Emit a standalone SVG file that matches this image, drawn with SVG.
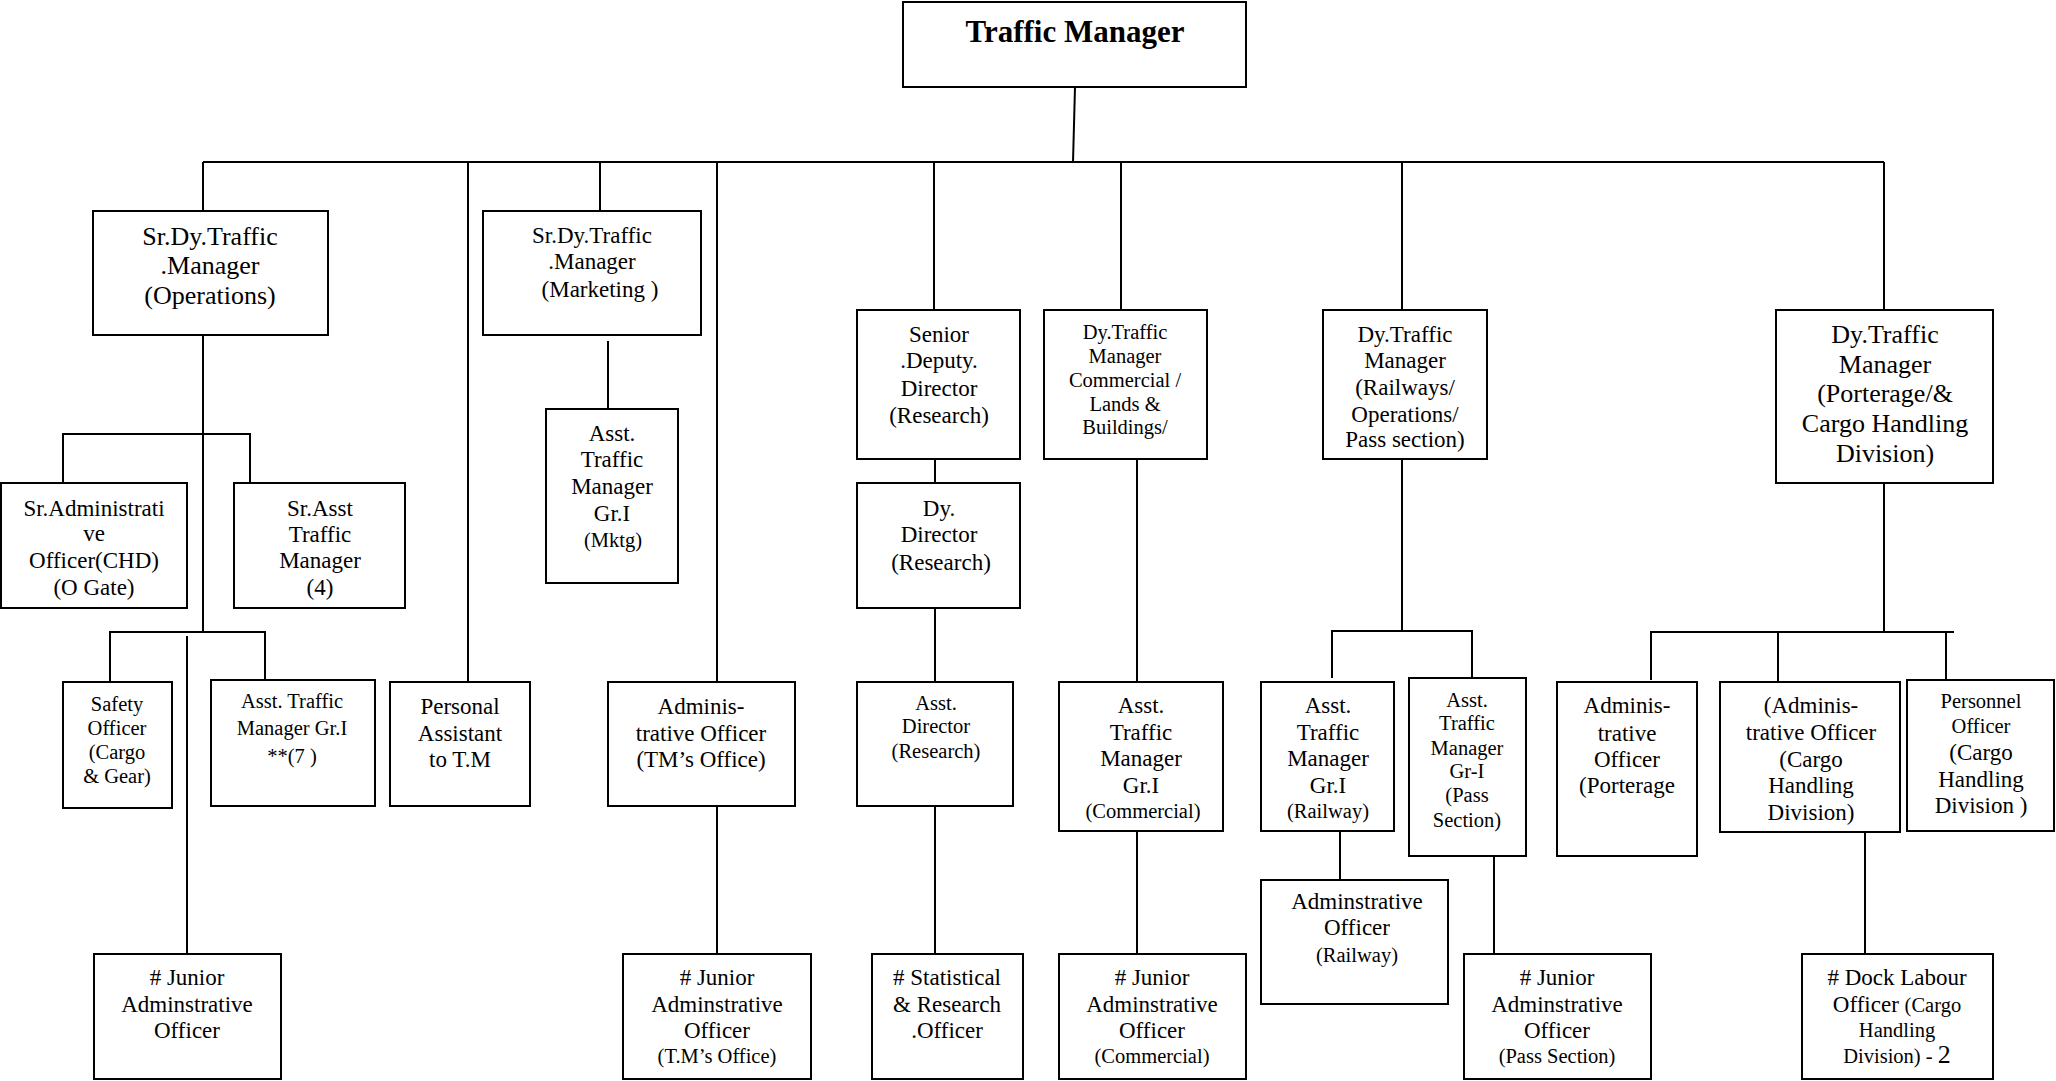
<svg xmlns="http://www.w3.org/2000/svg" width="2056" height="1081" viewBox="0 0 2056 1081">
<style>
.box{fill:#fff;stroke:#000;stroke-width:2}
.c{fill:none;stroke:#000;stroke-width:2}
text{font-family:"Liberation Serif","Times New Roman",serif;text-anchor:middle;fill:#000;font-size:23px}
.s{font-size:20.5px}
.l{font-size:26px}
.b{font-size:31px;font-weight:bold}
</style>
<rect width="2056" height="1081" fill="#fff"/>
<g id="connectors">
<path class="c" d="M1075,87 L1073,162"/>
<path class="c" d="M203,162 H1884"/>
<path class="c" d="M203,162 V211 M468,162 V682 M600,162 V211 M717,162 V682 M934,162 V310 M1121,162 V310 M1402,162 V310 M1884,162 V310"/>
<path class="c" d="M203,335 V632 M63,483 V434 H250 V483 M110,682 V632 H265 V680 M187,636 V954"/>
<path class="c" d="M608,341 V409"/>
<path class="c" d="M717,806 V954"/>
<path class="c" d="M935,459 V483 M935,608 V682 M935,806 V954"/>
<path class="c" d="M1137,459 V682 M1137,831 V954"/>
<path class="c" d="M1402,459 V631 M1332,678 V631 H1472 V678 M1340,831 V880 M1494,856 V954"/>
<path class="c" d="M1884,483 V632 M1651,680 V632 H1954 M1778,632 V682 M1946,632 V680 M1865,832 V954"/>
</g>
<g id="tm"><rect class="box" x="903" y="2" width="343" height="85"/><text class="b" x="1075" y="42">Traffic Manager</text></g>
<g id="ops"><rect class="box" x="93" y="211" width="235" height="124"/>
<text class="l" x="210" y="245">Sr.Dy.Traffic</text><text class="l" x="210" y="274">.Manager</text><text class="l" x="210" y="304">(Operations)</text></g>
<g id="mktg"><rect class="box" x="483" y="211" width="218" height="124"/>
<text x="592" y="243">Sr.Dy.Traffic</text><text x="592" y="269">.Manager</text><text x="600" y="297">(Marketing )</text></g>
<g id="sradmin"><rect class="box" x="1" y="483" width="186" height="125"/>
<text x="94" y="516">Sr.Administrati</text><text x="94" y="541">ve</text><text x="94" y="568">Officer(CHD)</text><text x="94" y="595">(O Gate)</text></g>
<g id="srasst"><rect class="box" x="234" y="483" width="171" height="125"/>
<text x="320" y="516">Sr.Asst</text><text x="320" y="542">Traffic</text><text x="320" y="568">Manager</text><text x="320" y="595">(4)</text></g>
<g id="atm-mktg"><rect class="box" x="546" y="409" width="132" height="174"/>
<text x="612" y="441">Asst.</text><text x="612" y="467">Traffic</text><text x="612" y="494">Manager</text><text x="612" y="521">Gr.I</text><text class="s" x="613" y="547">(Mktg)</text></g>
<g id="safety"><rect class="box" x="63" y="682" width="109" height="126"/>
<text class="s" x="117" y="711">Safety</text><text class="s" x="117" y="735">Officer</text><text class="s" x="117" y="759">(Cargo</text><text class="s" x="117" y="783">&amp; Gear)</text></g>
<g id="atm-ops"><rect class="box" x="211" y="680" width="164" height="126"/>
<text class="s" x="292" y="708">Asst. Traffic</text><text class="s" x="292" y="735">Manager Gr.I</text><text class="s" x="292" y="763">**(7 )</text></g>
<g id="pa"><rect class="box" x="390" y="682" width="140" height="124"/>
<text x="460" y="714">Personal</text><text x="460" y="741">Assistant</text><text x="460" y="767">to T.M</text></g>
<g id="admin-tm"><rect class="box" x="608" y="682" width="187" height="124"/>
<text x="701" y="714">Adminis-</text><text x="701" y="741">trative Officer</text><text x="701" y="767">(TM’s Office)</text></g>
<g id="srdepdir"><rect class="box" x="857" y="310" width="163" height="149"/>
<text x="939" y="342">Senior</text><text x="939" y="368">.Deputy.</text><text x="939" y="396">Director</text><text x="939" y="423">(Research)</text></g>
<g id="dydir"><rect class="box" x="857" y="483" width="163" height="125"/>
<text x="939" y="516">Dy.</text><text x="939" y="542">Director</text><text x="941" y="570">(Research)</text></g>
<g id="asstdir"><rect class="box" x="857" y="682" width="156" height="124"/>
<text class="s" x="936" y="710">Asst.</text><text class="s" x="936" y="733">Director</text><text class="s" x="936" y="758">(Research)</text></g>
<g id="dtm-comm"><rect class="box" x="1044" y="310" width="163" height="149"/>
<text class="s" x="1125" y="339">Dy.Traffic</text><text class="s" x="1125" y="363">Manager</text><text class="s" x="1125" y="387">Commercial /</text><text class="s" x="1125" y="411">Lands &amp;</text><text class="s" x="1125" y="434">Buildings/</text></g>
<g id="atm-comm"><rect class="box" x="1059" y="682" width="164" height="149"/>
<text x="1141" y="713">Asst.</text><text x="1141" y="740">Traffic</text><text x="1141" y="766">Manager</text><text x="1141" y="793">Gr.I</text><text class="s" x="1143" y="818">(Commercial)</text></g>
<g id="dtm-rail"><rect class="box" x="1323" y="310" width="164" height="149"/>
<text x="1405" y="342">Dy.Traffic</text><text x="1405" y="368">Manager</text><text x="1405" y="395">(Railways/</text><text x="1405" y="422">Operations/</text><text x="1405" y="447">Pass section)</text></g>
<g id="atm-rail"><rect class="box" x="1261" y="682" width="133" height="149"/>
<text x="1328" y="713">Asst.</text><text x="1328" y="740">Traffic</text><text x="1328" y="766">Manager</text><text x="1328" y="793">Gr.I</text><text class="s" x="1328" y="818">(Railway)</text></g>
<g id="ao-rail"><rect class="box" x="1261" y="880" width="187" height="124"/>
<text x="1357" y="909">Adminstrative</text><text x="1357" y="935">Officer</text><text class="s" x="1357" y="962">(Railway)</text></g>
<g id="atm-pass"><rect class="box" x="1409" y="678" width="117" height="178"/>
<text class="s" x="1467" y="707">Asst.</text><text class="s" x="1467" y="730">Traffic</text><text class="s" x="1467" y="755">Manager</text><text class="s" x="1467" y="778">Gr-I</text><text class="s" x="1467" y="802">(Pass</text><text class="s" x="1467" y="827">Section)</text></g>
<g id="dtm-port"><rect class="box" x="1776" y="310" width="217" height="173"/>
<text class="l" x="1885" y="343">Dy.Traffic</text><text class="l" x="1885" y="373">Manager</text><text class="l" x="1885" y="402">(Porterage/&amp;</text><text class="l" x="1885" y="432">Cargo Handling</text><text class="l" x="1885" y="462">Division)</text></g>
<g id="ao-port"><rect class="box" x="1557" y="682" width="140" height="174"/>
<text x="1627" y="713">Adminis-</text><text x="1627" y="741">trative</text><text x="1627" y="767">Officer</text><text x="1627" y="793">(Porterage</text></g>
<g id="ao-cargo"><rect class="box" x="1720" y="682" width="180" height="150"/>
<text x="1811" y="713">(Adminis-</text><text x="1811" y="740">trative Officer</text><text x="1811" y="767">(Cargo</text><text x="1811" y="793">Handling</text><text x="1811" y="820">Division)</text></g>
<g id="personnel"><rect class="box" x="1907" y="680" width="147" height="151"/>
<text class="s" x="1981" y="708">Personnel</text><text class="s" x="1981" y="733">Officer</text><text x="1981" y="760">(Cargo</text><text x="1981" y="787">Handling</text><text x="1981" y="813">Division )</text></g>
<g id="jao-ops"><rect class="box" x="94" y="954" width="187" height="125"/>
<text x="187" y="985"># Junior</text><text x="187" y="1012">Adminstrative</text><text x="187" y="1038">Officer</text></g>
<g id="jao-tm"><rect class="box" x="623" y="954" width="188" height="125"/>
<text x="717" y="985"># Junior</text><text x="717" y="1012">Adminstrative</text><text x="717" y="1038">Officer</text><text class="s" x="717" y="1063">(T.M’s Office)</text></g>
<g id="stat"><rect class="box" x="872" y="954" width="151" height="125"/>
<text x="947" y="985"># Statistical</text><text x="947" y="1012">&amp; Research</text><text x="947" y="1038">.Officer</text></g>
<g id="jao-comm"><rect class="box" x="1059" y="954" width="187" height="125"/>
<text x="1152" y="985"># Junior</text><text x="1152" y="1012">Adminstrative</text><text x="1152" y="1038">Officer</text><text class="s" x="1152" y="1063">(Commercial)</text></g>
<g id="jao-pass"><rect class="box" x="1464" y="954" width="187" height="125"/>
<text x="1557" y="985"># Junior</text><text x="1557" y="1012">Adminstrative</text><text x="1557" y="1038">Officer</text><text class="s" x="1557" y="1063">(Pass Section)</text></g>
<g id="dock"><rect class="box" x="1802" y="954" width="191" height="125"/>
<text x="1897" y="985"># Dock Labour</text><text x="1897" y="1012">Officer <tspan class="s">(Cargo</tspan></text><text class="s" x="1897" y="1037">Handling</text><text class="s" x="1897" y="1063">Division) - <tspan class="l">2</tspan></text></g>
</svg>
